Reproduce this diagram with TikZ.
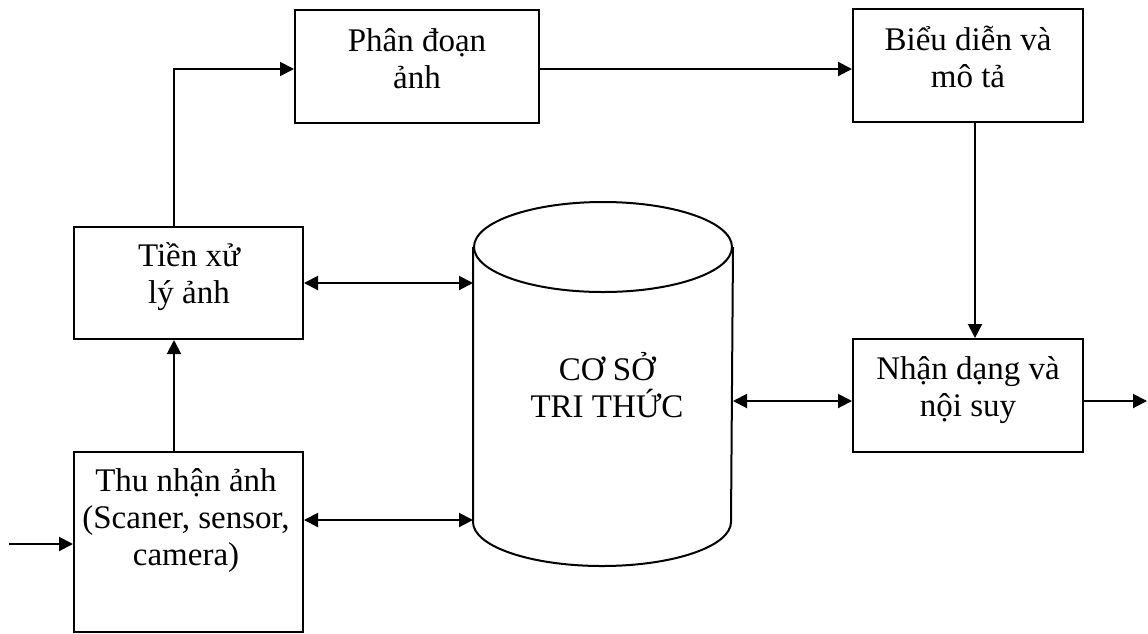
\documentclass[tikz,border=0pt]{standalone}
\usepackage{fontspec}
\setmainfont{Liberation Serif}
\usetikzlibrary{arrows.meta}
\begin{document}
\begin{tikzpicture}[x=1pt,y=-1pt,line width=2pt,
  >={Triangle[length=14pt,width=14pt]},
  box/.style={draw,rectangle,inner sep=0pt},
  lbl/.style={font=\fontsize{33}{37}\selectfont,align=center,anchor=base,inner sep=0pt}]
\useasboundingbox (0,0) rectangle (1148,633);

% processing blocks
\node[box,minimum width=244pt,minimum height=113pt] (phan) at (417,66.5) {};
\node[box,minimum width=230pt,minimum height=113pt] (bieu) at (968,65.5) {};
\node[box,minimum width=229pt,minimum height=112pt] (tien) at (188.5,283) {};
\node[box,minimum width=229pt,minimum height=180pt] (thu)  at (188.5,542) {};
\node[box,minimum width=230pt,minimum height=113pt] (nhan) at (968,395.5) {};

% block labels (anchored on the baseline of the last line)
\node[lbl] (tphan) at (417,88)   {Phân đoạn\\ảnh};
\node[lbl] (tbieu) at (968,87)   {Biểu diễn và\\mô tả};
\node[lbl] (ttien) at (189,303)  {Tiền xử\\lý ảnh};
\node[lbl] (tthu)  at (186,565)  {Thu nhận ảnh\\(Scaner, sensor,\\camera)};
\node[lbl] (tnhan) at (968,416)  {Nhận dạng và\\nội suy};

% knowledge base cylinder
\node[inner sep=0pt,minimum width=258pt,minimum height=273pt] (kb) at (603,384.5) {};
\draw (kb.north) ellipse [x radius=129pt,y radius=45pt];
\draw (kb.north west) -- (kb.south west)
      arc [start angle=180,end angle=360,x radius=129pt,y radius=44pt]
      -- (kb.north east);
\node[lbl] (tkb) at (607,417) {CƠ SỞ\\TRI THỨC};

% connectors
\coordinate (in)  at (9,544);
\coordinate (out) at (1147,401);
\coordinate (n1)  at ([yshift=-5.5pt]nhan.west);
\coordinate (t1)  at ([yshift=22pt]thu.east);

\draw[->] (in) -- (in -| thu.west);
\draw[->] ([xshift=-14.5pt]thu.north) -- ([xshift=-14.5pt]tien.south);
\draw[->] ([xshift=-14.5pt]tien.north) |- ([yshift=-2.5pt]phan.west);
\draw[->] ([yshift=-2.5pt]phan.east) -- ([yshift=-2.5pt]phan.east -| bieu.west);
\draw[->] ([xshift=7pt]bieu.south) -- ([xshift=7pt]nhan.north);
\draw[<->] (tien.east) -- (tien.east -| kb.west);
\draw[<->] (t1) -- (t1 -| kb.west);
\draw[<->] (n1 -| kb.east) -- (n1);
\draw[->] (n1 -| nhan.east) -- (out);
\end{tikzpicture}
\end{document}
